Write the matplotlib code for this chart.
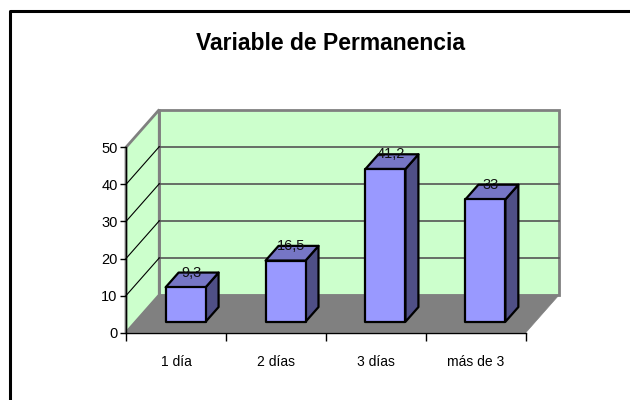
"""Variable de Permanencia: barras con aspecto 3D."""

import matplotlib

matplotlib.use("Agg")
import matplotlib.pyplot as plt
from matplotlib.patches import Polygon

categories = ["1 día", "2 días", "3 días", "más de 3"]
values = [9.3, 16.5, 41.2, 33]
value_labels = ["9,3", "16,5", "41,2", "33"]
y_ticks = [0, 10, 20, 30, 40, 50]

W, H = 630, 400
DEPTH_X = 0.333  # fondo del gráfico, en categorías
DEPTH_Y = 10.17  # fondo del gráfico, en unidades de y
BAR_W = 0.4
D_FRONT, D_BACK = 0.29, 0.68

plt.rcParams["font.family"] = ["Liberation Sans", "DejaVu Sans"]

fig = plt.figure(figsize=(W / 100, H / 100), dpi=100)
ax = fig.add_axes([126 / W, 1 - 332.7 / H, 399.7 / W, 185.4 / H])
ax.set_xlim(0, 4)
ax.set_ylim(0, 50)
ax.patch.set_visible(False)


def proj(x, y, d):
    return (x + d * DEPTH_X, y + d * DEPTH_Y)


def poly(points, **kw):
    kw.setdefault("clip_on", False)
    ax.add_patch(Polygon(points, closed=True, **kw))


# paredes y suelo
poly([proj(0, 0, 1), proj(4, 0, 1), proj(4, 50, 1), proj(0, 50, 1)],
     facecolor="#CCFFCC", edgecolor="#808080", linewidth=2, zorder=1)
poly([proj(0, 0, 0), proj(0, 0, 1), proj(0, 50, 1), proj(0, 50, 0)],
     facecolor="#CCFFCC", edgecolor="#808080", linewidth=2, zorder=1)
for v in y_ticks[1:-1]:
    ax.plot(*zip(proj(0, v, 1), proj(4, v, 1)), color="#555555", lw=1.2, zorder=2, clip_on=False)
    ax.plot(*zip(proj(0, v, 0), proj(0, v, 1)), color="black", lw=0.8, zorder=2, clip_on=False)
poly([proj(0, 0, 0), proj(4, 0, 0), proj(4, 0, 1), proj(0, 0, 1)],
     facecolor="#808080", edgecolor="#808080", linewidth=0.5, zorder=3)

# barras
for i, (v, lab) in enumerate(zip(values, value_labels)):
    x0 = i + 0.5 - BAR_W / 2
    x1 = i + 0.5 + BAR_W / 2
    style = dict(edgecolor="black", linewidth=1.6, joinstyle="round", zorder=4)
    poly([proj(x1, 0, D_FRONT), proj(x1, 0, D_BACK), proj(x1, v, D_BACK), proj(x1, v, D_FRONT)],
         facecolor="#4F4F86", **style)
    poly([proj(x0, v, D_FRONT), proj(x1, v, D_FRONT), proj(x1, v, D_BACK), proj(x0, v, D_BACK)],
         facecolor="#7676C5", **style)
    poly([proj(x0, 0, D_FRONT), proj(x1, 0, D_FRONT), proj(x1, v, D_FRONT), proj(x0, v, D_FRONT)],
         facecolor="#9999FF", **style)
    lx, ly = proj(i + 0.5, v, D_FRONT)
    ax.annotate(lab, (lx, ly), xytext=(4, 10.5), textcoords="offset points", ha="center",
                va="center", fontsize=10.5, color="#111111", zorder=6, annotation_clip=False)

# ejes
for side in ("top", "right"):
    ax.spines[side].set_visible(False)
for side in ("left", "bottom"):
    ax.spines[side].set_linewidth(1)
    ax.spines[side].set_zorder(5)
ax.set_yticks(y_ticks)
ax.tick_params(axis="y", length=4.5, width=1, pad=1.5, labelsize=10.5)
ax.set_xticks(range(5))
ax.set_xticklabels([])
ax.tick_params(axis="x", which="major", length=5.5, width=1)
ax.set_xticks([i + 0.5 for i in range(4)], categories, minor=True)
ax.tick_params(axis="x", which="minor", length=0, pad=16, labelsize=10)

# título y marco
fig.text(330 / W, 1 - 43 / H, "Variable de Permanencia", ha="center", va="center",
         fontsize=16.5, fontweight="bold")
fig.add_artist(plt.Line2D([10 / W, 10 / W, 1], [0, 1 - 11 / H, 1 - 11 / H], color="black", lw=2.2))

fig.savefig("out.png", dpi=100)
